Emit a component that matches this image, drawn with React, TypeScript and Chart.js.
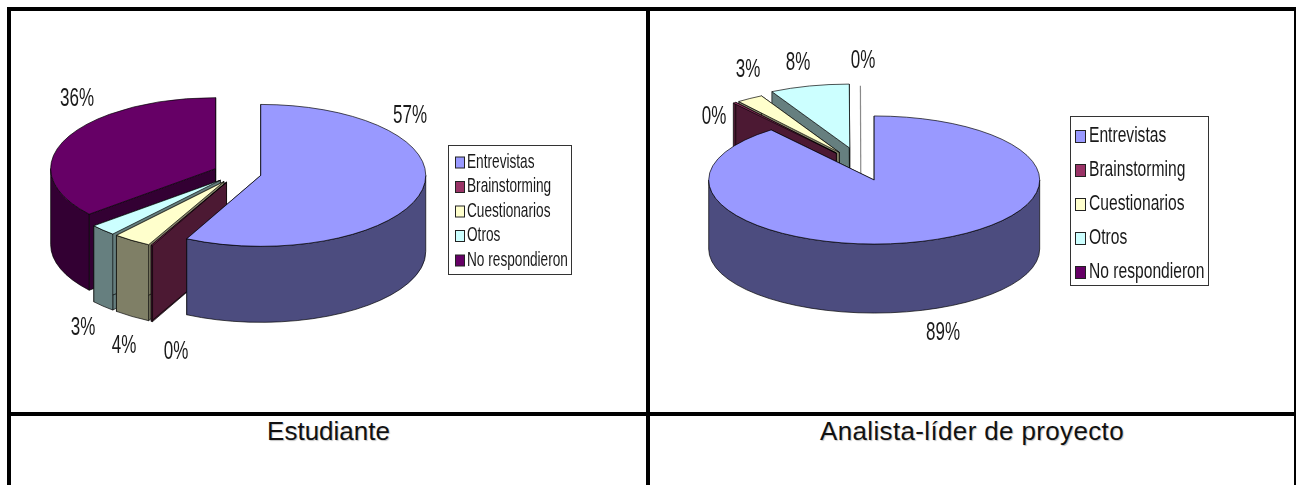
import React, { useEffect, useRef } from "react";
import { Chart, registerables } from "chart.js";

Chart.register(...registerables);

const categories = ["Entrevistas", "Brainstorming", "Cuestionarios", "Otros", "No respondieron"];
const sliceColors = ["#9999FF", "#993366", "#FFFFCC", "#CCFFFF", "#660066"];
const estudianteValues = [57.4, 0.15, 3.75, 2.6, 36.1];
const analistaValues = [89.3, 0.3, 2.6, 7.75, 0.05];
const captions = ["Estudiante", "Analista-líder de proyecto"];

const FONT = '"Liberation Sans", Arial, sans-serif';

function darken(hex: string) {
  const n = parseInt(hex.slice(1), 16);
  const r = (n >> 16) & 255, g = (n >> 8) & 255, b = n & 255;
  return `rgb(${r >> 1},${g >> 1},${b >> 1})`;
}

function narrowText(ctx: any, text: string, x: number, y: number, size: number, sx: number, align = "left") {
  ctx.save();
  ctx.font = `${size}px ${FONT}`;
  ctx.fillStyle = "#1a1a1a";
  ctx.textBaseline = "middle";
  ctx.textAlign = align;
  ctx.translate(x, y);
  ctx.scale(sx, 1);
  ctx.fillText(text, 0, 0);
  ctx.restore();
}

const pie3d = {
  id: "pie3d",
  beforeDatasetDraw(chart: any, _args: any, o: any) {
    const ctx = chart.ctx;
    const arcs = chart.getDatasetMeta(0).data;
    ctx.save();
    ctx.lineWidth = 0.8;
    ctx.strokeStyle = "rgba(0,0,0,0.85)";
    ctx.lineJoin = "round";
    for (const i of [4, 3, 2, 1, 0]) {
      const el = arcs[i];
      const { x, y, startAngle: s, endAngle: e, outerRadius: R } = el.getProps(["x", "y", "startAngle", "endAngle", "outerRadius"], true);
      const mid = (s + e) / 2;
      const off = el.options.offset;
      const cx = x + Math.cos(mid) * off;
      const cy = y + Math.sin(mid) * off * o.squash;
      const a = R, b = R * o.squash, d = o.depth;
      const col = el.options.backgroundColor;
      if (e - s < 0.005) {
        ctx.save();
        ctx.strokeStyle = "#8a8a8a";
        ctx.lineWidth = 1.2;
        ctx.beginPath();
        ctx.moveTo(cx + a * Math.cos(s), cy + b * Math.sin(s));
        ctx.lineTo(cx, cy + d);
        ctx.stroke();
        ctx.restore();
        continue;
      }
      const side = darken(col);
      ctx.fillStyle = side;
      for (const t of [s, e]) {
        const px = cx + a * Math.cos(t), py = cy + b * Math.sin(t);
        ctx.beginPath();
        ctx.moveTo(cx, cy);
        ctx.lineTo(px, py);
        ctx.lineTo(px, py + d);
        ctx.lineTo(cx, cy + d);
        ctx.closePath();
        ctx.fill();
        ctx.stroke();
      }
      const t0 = Math.max(s, 0), t1 = Math.min(e, Math.PI);
      if (t1 > t0) {
        ctx.beginPath();
        ctx.ellipse(cx, cy, a, b, 0, t0, t1);
        ctx.ellipse(cx, cy + d, a, b, 0, t1, t0, true);
        ctx.closePath();
        ctx.fill();
        ctx.stroke();
      }
      ctx.fillStyle = col;
      ctx.beginPath();
      ctx.moveTo(cx, cy);
      ctx.ellipse(cx, cy, a, b, 0, s, e);
      ctx.closePath();
      ctx.fill();
      ctx.stroke();
    }
    ctx.restore();
    return false;
  },
  afterDraw(chart: any, _args: any, o: any) {
    const ctx = chart.ctx;
    const values = chart.data.datasets[0].data;
    const colors = chart.data.datasets[0].backgroundColor;
    const labels = chart.data.labels;
    ctx.save();
    ctx.translate(-o.originX, -o.originY);
    values.forEach((v: number, i: number) => {
      const [lx, ly] = o.labelAt[i];
      narrowText(ctx, `${Math.round(v)}%`, lx, ly, o.labelSize, o.labelScale, "center");
    });
    const L = o.legend;
    ctx.fillStyle = "#fff";
    ctx.strokeStyle = "#333";
    ctx.lineWidth = 1;
    ctx.fillRect(L.x, L.y, L.w, L.h);
    ctx.strokeRect(L.x + 0.5, L.y + 0.5, L.w - 1, L.h - 1);
    labels.forEach((t: string, i: number) => {
      const cy = L.firstY + i * L.step;
      ctx.fillStyle = colors[i];
      ctx.fillRect(L.swatchX + 0.5, cy - L.swatchH / 2 + 0.5, L.swatchW, L.swatchH);
      ctx.strokeStyle = "#222";
      ctx.strokeRect(L.swatchX + 0.5, cy - L.swatchH / 2 + 0.5, L.swatchW, L.swatchH);
      narrowText(ctx, t, L.textX, cy, L.size, L.scale);
    });
    ctx.restore();
  },
};

type PieProps = { values: number[]; left: number; top: number; width: number; height: number; padRight: number; padBottom: number; radius: number; offset: number | number[]; squash: number; depth: number; labelAt: number[][]; labelSize: number; labelScale: number; legend: any };

function Pie3D(p: PieProps) {
  const ref = useRef<HTMLCanvasElement | null>(null);
  useEffect(() => {
    const chart = new Chart(ref.current as HTMLCanvasElement, {
      type: "pie",
      data: {
        labels: categories,
        datasets: [{ data: p.values, backgroundColor: sliceColors, offset: p.offset, borderWidth: 0 }],
      },
      options: {
        animation: false,
        responsive: false,
        radius: p.radius,
        layout: { padding: { right: p.padRight, bottom: p.padBottom } },
        plugins: {
          legend: { display: false },
          tooltip: { enabled: false },
          pie3d: { squash: p.squash, depth: p.depth, originX: p.left, originY: p.top, labelAt: p.labelAt, labelSize: p.labelSize, labelScale: p.labelScale, legend: p.legend },
        },
      } as any,
      plugins: [pie3d],
    } as any);
    return () => chart.destroy();
  }, []);
  return (
    <canvas
      ref={ref}
      width={p.width}
      height={p.height}
      style={{ position: "absolute", left: p.left, top: p.top, width: p.width, height: p.height, filter: "blur(0.35px)" }}
    />
  );
}

const line = (left: number, top: number, width: number, height: number) => (
  <div style={{ position: "absolute", left, top, width, height, background: "#000" }} />
);

const captionStyle = (left: number, width: number, spacing: number): React.CSSProperties => ({
  position: "absolute",
  left,
  width,
  top: 416,
  textAlign: "center",
  fontFamily: FONT,
  fontSize: 26,
  lineHeight: "30px",
  letterSpacing: spacing,
  color: "#111",
  textShadow: "1px 1px 1px #c4c4c4",
});

export default function App() {
  return (
    <div style={{ position: "absolute", left: 0, top: 0, width: 1296, height: 485, overflow: "hidden", background: "#fff" }}>
      <Pie3D
        values={estudianteValues}
        left={11} top={11} width={635} height={401}
        padRight={182.2} padBottom={77}
        radius={165} offset={24} squash={0.43} depth={76}
        labelAt={[[410, 116.5], [176, 352.5], [124, 346.5], [83, 328.5], [77, 99.5]]}
        labelSize={25} labelScale={0.68}
        legend={{ x: 448, y: 145, w: 124, h: 130, firstY: 162, step: 24.5, swatchX: 455, swatchW: 9, swatchH: 11, textX: 467, size: 21, scale: 0.65 }}
      />
      <Pie3D
        values={analistaValues}
        left={650} top={11} width={644} height={401}
        padRight={222} padBottom={92.2}
        radius={165.5} offset={[40, 40, 40, 46, 40]} squash={0.387} depth={69}
        labelAt={[[943, 333.5], [714, 117.5], [748, 70.5], [798, 63.5], [863, 61.5]]}
        labelSize={25} labelScale={0.68}
        legend={{ x: 1070, y: 116, w: 139, h: 170, firstY: 136, step: 34, swatchX: 1075, swatchW: 10, swatchH: 12, textX: 1089, size: 22, scale: 0.71 }}
      />
      {line(7, 7, 1289, 4)}
      {line(7, 7, 4, 478)}
      {line(646, 7, 4, 478)}
      {line(1294, 7, 2, 478)}
      {line(7, 412, 1289, 4)}
      <div style={captionStyle(11, 635, 0)}>{captions[0]}</div>
      <div style={captionStyle(650, 644, 0.35)}>{captions[1]}</div>
    </div>
  );
}
